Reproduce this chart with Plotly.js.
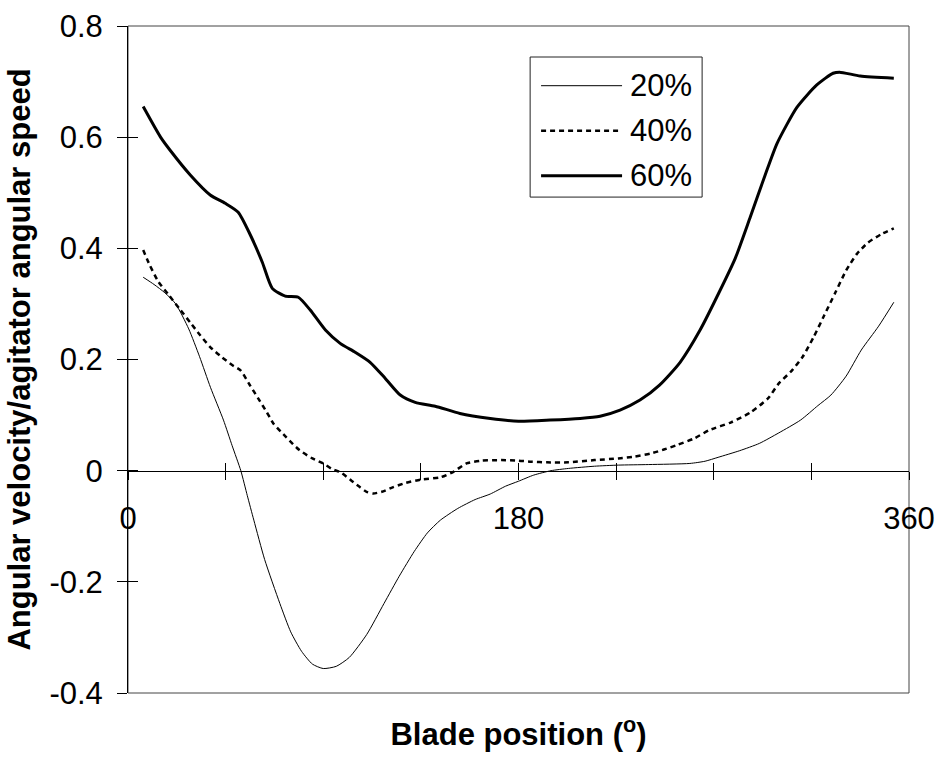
<!DOCTYPE html>
<html>
<head>
<meta charset="utf-8">
<script src="https://cdn.plot.ly/plotly-3.0.1.min.js"></script>
<style>
  html, body { margin: 0; padding: 0; background: #fff; }
  #chart { width: 941px; height: 757px; }
</style>
</head>
<body>
<div id="chart"></div>
<script>
// Angular velocity of the fluid normalised by agitator speed, vs blade position
const seriesNames = ['20%', '40%', '60%'];

const angle20 = [7, 12, 17, 22, 28, 33, 38, 44, 48, 52, 55, 58, 63, 70, 75, 80, 85, 90, 96, 102, 110, 118, 125, 132, 138, 144, 152, 160, 167, 174, 180, 187, 195, 203, 215, 226, 240, 259, 266, 272, 282, 291, 300, 310, 318, 324, 331, 338, 346, 353];
const value20 = [0.348, 0.335, 0.32, 0.30, 0.255, 0.205, 0.15, 0.091, 0.045, 0.0, -0.045, -0.089, -0.16, -0.239, -0.29, -0.325, -0.348, -0.356, -0.352, -0.336, -0.295, -0.239, -0.19, -0.145, -0.112, -0.089, -0.068, -0.052, -0.042, -0.028, -0.019, -0.008, 0.0, 0.004, 0.008, 0.010, 0.011, 0.013, 0.017, 0.024, 0.036, 0.049, 0.068, 0.091, 0.117, 0.136, 0.17, 0.217, 0.26, 0.303];

const angle40 = [7, 10, 14, 19, 24, 29, 33, 38, 43, 48, 52, 56, 60, 64, 67, 73, 79, 85, 90, 94, 98, 103, 107, 110, 113, 117, 122, 128, 135, 144, 150, 156, 163, 172, 180, 186, 193, 203, 215, 226, 233, 241, 247, 253, 261, 268, 278, 287, 295, 300, 306, 311, 316, 321, 326, 331, 336, 341, 347, 353];
const value40 = [0.397, 0.37, 0.34, 0.315, 0.29, 0.265, 0.245, 0.222, 0.205, 0.19, 0.18, 0.155, 0.13, 0.105, 0.085, 0.06, 0.037, 0.022, 0.013, 0.003, -0.003, -0.018, -0.030, -0.038, -0.041, -0.038, -0.030, -0.022, -0.016, -0.012, -0.002, 0.013, 0.018, 0.019, 0.018, 0.016, 0.015, 0.015, 0.019, 0.022, 0.025, 0.031, 0.038, 0.046, 0.058, 0.073, 0.087, 0.105, 0.13, 0.157, 0.18, 0.205, 0.24, 0.28, 0.32, 0.36, 0.39, 0.41, 0.425, 0.436];

const angle60 = [7, 15, 19.5, 28.7, 37.9, 44.8, 50.8, 56.4, 61.9, 66.5, 72.5, 78.5, 84, 91, 97.8, 104.7, 111.6, 118.6, 125.5, 132.4, 141.6, 153, 167, 180, 194.6, 208.4, 217.6, 226.8, 236, 245, 254.5, 263.7, 273, 279.9, 286.8, 293.7, 299.2, 308.4, 317.5, 325, 328, 337.5, 353];
const value60 = [0.655, 0.60, 0.576, 0.532, 0.496, 0.481, 0.465, 0.424, 0.375, 0.328, 0.314, 0.312, 0.289, 0.253, 0.229, 0.213, 0.195, 0.166, 0.136, 0.123, 0.116, 0.103, 0.094, 0.089, 0.091, 0.094, 0.098, 0.109, 0.127, 0.154, 0.195, 0.253, 0.325, 0.382, 0.456, 0.532, 0.589, 0.654, 0.694, 0.715, 0.717, 0.710, 0.706];

const xLabelVals = [0, 180, 360];
const xLabelText = ['0', '180', '360'];
const xTickStep = 45;
const yTickVals = [-0.4, -0.2, 0, 0.2, 0.4, 0.6, 0.8];
const yTickText = ['-0.4', '-0.2', '0', '0.2', '0.4', '0.6', '0.8'];

const xRange = [0, 360];
const yRange = [-0.4, 0.8];

const FONT = 'Liberation Sans, Arial, Helvetica, sans-serif';

const lineStyles = [
  { color: '#000', width: 1, dash: 'solid' },
  { color: '#000', width: 2.5, dash: '5px,4px' },
  { color: '#000', width: 3, dash: 'solid' }
];

const xs = [angle20, angle40, angle60];
const ys = [value20, value40, value60];

const traces = seriesNames.map((name, i) => ({
  type: 'scatter', mode: 'lines', name: name,
  x: xs[i], y: ys[i],
  xaxis: 'x', yaxis: 'y',
  line: Object.assign({ shape: 'spline', smoothing: 0.6 }, lineStyles[i]),
  hoverinfo: 'skip'
}));

// empty traces so the helper axes (crossing ticks) get drawn
traces.push({ type: 'scatter', x: [], y: [], xaxis: 'x2', yaxis: 'y', showlegend: false, hoverinfo: 'skip' });
traces.push({ type: 'scatter', x: [], y: [], xaxis: 'x3', yaxis: 'y', showlegend: false, hoverinfo: 'skip' });
traces.push({ type: 'scatter', x: [], y: [], xaxis: 'x', yaxis: 'y2', showlegend: false, hoverinfo: 'skip' });

const zeroPos = (0 - yRange[0]) / (yRange[1] - yRange[0]);

// legend box drawn in paper coordinates
const legBox = { x0: 0.5149, x1: 0.7351, y0: 0.7435, y1: 0.9535 };
const legRows = [0.9105, 0.843, 0.7755];
const legLine = { x0: 0.5289, x1: 0.6326 };
const legText = 0.6406;

const shapes = [
  { type: 'rect', xref: 'paper', yref: 'paper', x0: 0, x1: 1, y0: 0, y1: 1,
    line: { color: '#444', width: 1 }, layer: 'below' },
  { type: 'rect', xref: 'paper', yref: 'paper', x0: legBox.x0, x1: legBox.x1, y0: legBox.y0, y1: legBox.y1,
    line: { color: '#222', width: 1 }, fillcolor: '#fff', layer: 'above' }
];
const annotations = [];
seriesNames.forEach((name, i) => {
  shapes.push({ type: 'line', xref: 'paper', yref: 'paper',
    x0: legLine.x0, x1: legLine.x1, y0: legRows[i], y1: legRows[i],
    line: { color: lineStyles[i].color, width: lineStyles[i].width, dash: lineStyles[i].dash },
    layer: 'above' });
  annotations.push({ xref: 'paper', yref: 'paper', x: legText, y: legRows[i],
    xanchor: 'left', yanchor: 'middle', showarrow: false, text: name,
    font: { family: FONT, size: 31, color: '#000' } });
});

const tickFont = { family: FONT, size: 31, color: '#000' };

const layout = {
  width: 941, height: 757,
  margin: { l: 128, r: 32, t: 26, b: 64, pad: 0 },
  paper_bgcolor: '#fff', plot_bgcolor: '#fff',
  showlegend: false,
  font: { family: FONT, color: '#000' },
  xaxis: {
    domain: [0, 1], anchor: 'y', range: xRange,
    showline: false, showgrid: false, zeroline: false, ticks: '', showticklabels: false,
    automargin: false,
    title: { text: 'Blade position (<sup>o</sup>)', font: { family: FONT, size: 31, weight: 'bold', color: '#000' }, standoff: 30 }
  },
  // axis along y = 0 with labels and downward ticks
  xaxis2: {
    overlaying: 'x', anchor: 'free', position: zeroPos, range: xRange,
    tickmode: 'array', tickvals: xLabelVals, ticktext: xLabelText,
    ticks: 'outside', ticklen: 8, tickwidth: 1, tickcolor: '#000',
    minor: { tickmode: 'linear', tick0: 0, dtick: xTickStep, ticks: 'outside', ticklen: 8, tickwidth: 1, tickcolor: '#000', showgrid: false },
    showline: true, linecolor: '#000', linewidth: 1,
    showgrid: false, zeroline: false, automargin: false,
    tickfont: tickFont, ticklabelstandoff: 12
  },
  // upward halves of the same ticks
  xaxis3: {
    overlaying: 'x', anchor: 'free', position: zeroPos, range: xRange,
    tickmode: 'linear', tick0: 0, dtick: xTickStep,
    ticks: 'inside', ticklen: 8, tickwidth: 1, tickcolor: '#000',
    showline: false, showgrid: false, zeroline: false, showticklabels: false, automargin: false
  },
  yaxis: {
    domain: [0, 1], anchor: 'x', range: yRange,
    tickmode: 'array', tickvals: yTickVals, ticktext: yTickText,
    ticks: 'outside', ticklen: 10, tickwidth: 1, tickcolor: '#000',
    showline: true, linecolor: '#000', linewidth: 1,
    showgrid: false, zeroline: false, automargin: false,
    tickfont: tickFont, ticklabelstandoff: 8,
    title: { text: 'Angular velocity/agitator angular speed', font: { family: FONT, size: 31, weight: 'bold', color: '#000' }, standoff: 9 }
  },
  yaxis2: {
    overlaying: 'y', anchor: 'x', side: 'left', range: yRange,
    tickmode: 'array', tickvals: yTickVals,
    ticks: 'inside', ticklen: 10, tickwidth: 1, tickcolor: '#000',
    showline: false, showgrid: false, zeroline: false, showticklabels: false, automargin: false
  },
  shapes: shapes,
  annotations: annotations
};

Plotly.newPlot('chart', traces, layout, { staticPlot: true, displayModeBar: false }).then(() => {
  // drop Plotly's off-screen text measuring helper once the static chart is drawn
  const tester = document.getElementById('js-plotly-tester');
  if (tester) tester.remove();
});
</script>
</body>
</html>
